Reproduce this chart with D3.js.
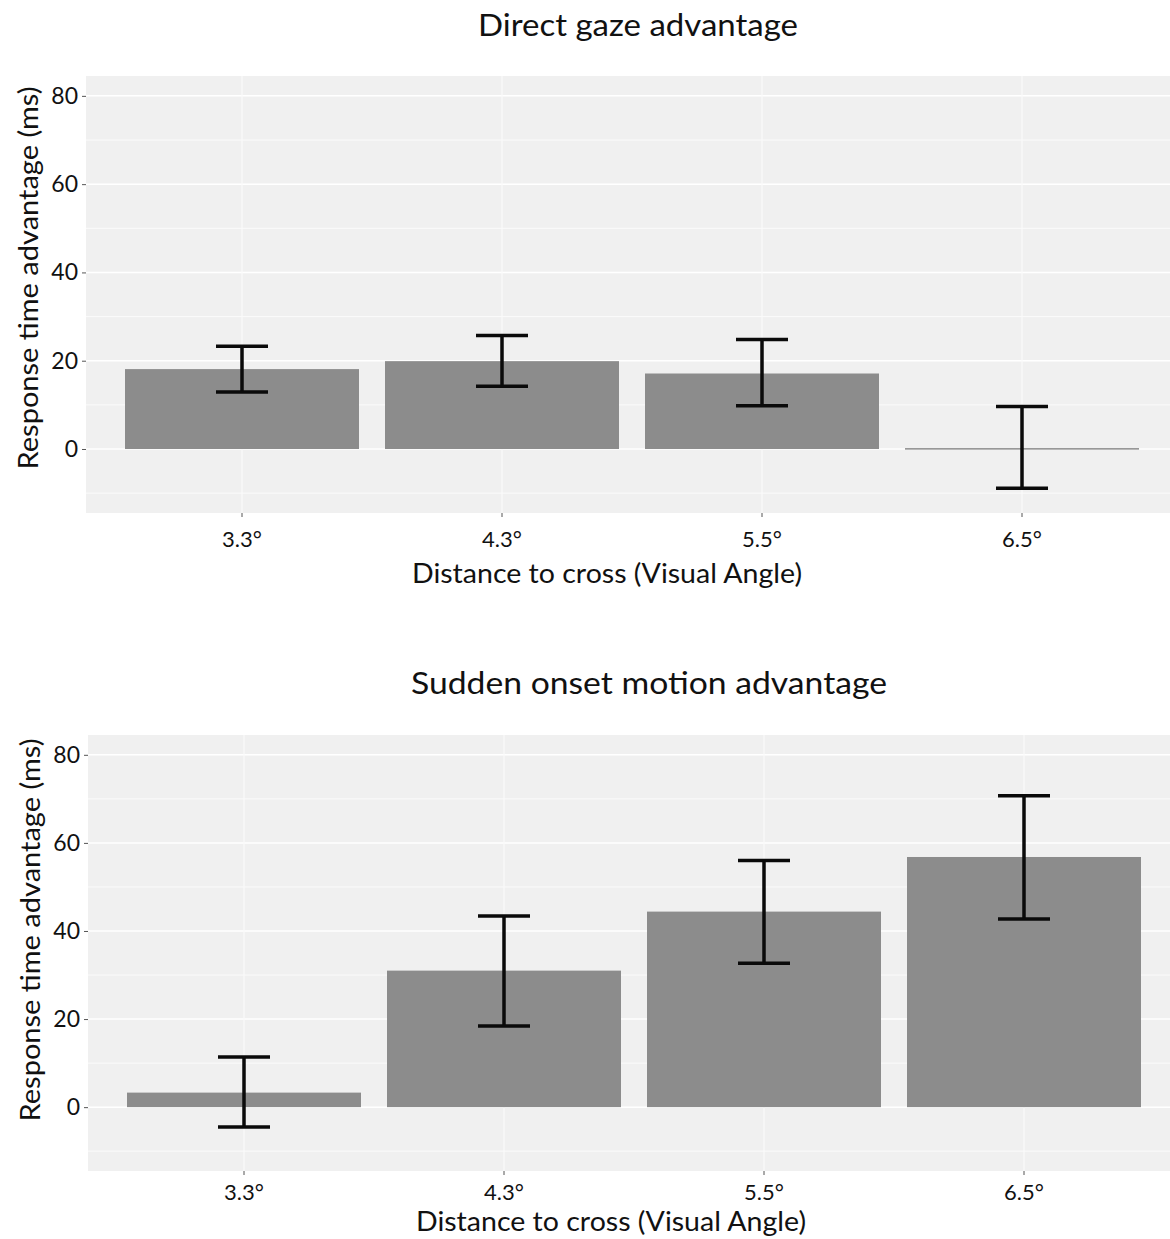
<!DOCTYPE html>
<html>
<head>
<meta charset="utf-8">
<script src="https://cdn.jsdelivr.net/npm/d3@7"></script>
<style>
  body { margin: 0; background: #fff; }
  svg text { font-family: Lato, "Open Sans", sans-serif; fill: #111; }
</style>
</head>
<body>
<svg id="chart" width="1170" height="1239"></svg>
<script>
// categories and values
const categories = ['3.3°', '4.3°', '5.5°', '6.5°'];

const gazeMeans = [18.1, 19.9, 17.1, 0.2];
const gazeLow = [12.9, 14.2, 9.8, -8.9];
const gazeHigh = [23.3, 25.7, 24.8, 9.6];

const motionMeans = [3.3, 31.0, 44.4, 56.8];
const motionLow = [-4.5, 18.4, 32.7, 42.7];
const motionHigh = [11.4, 43.4, 56.0, 70.7];

const yTicks = [0, 20, 40, 60, 80];
const yMinor = [-10, 10, 30, 50, 70];

const svg = d3.select('#chart');

function drawPanel(opts) {
    const g = svg.append('g');
    const left = opts.left, top = opts.top, bottom = opts.bottom;
    const step = 260;
    const right = left + step * 4.2;

    // discrete x scale like ggplot (0.6 units of padding each side, bars 0.9 wide)
    const x = d3.scaleBand()
        .domain(categories)
        .range([left, right])
        .paddingInner(0.1)
        .paddingOuter(0.15);
    const xc = d => x(d) + x.bandwidth() / 2;

    const y = d3.scaleLinear().domain([-14.5, 84.5]).range([bottom, top]);

    // panel background
    g.append('rect')
        .attr('x', left).attr('y', top)
        .attr('width', right - left).attr('height', bottom - top)
        .attr('fill', '#f0f0f0');

    // grid
    g.selectAll('.minor').data(yMinor).enter().append('line')
        .attr('x1', left).attr('x2', right)
        .attr('y1', d => y(d)).attr('y2', d => y(d))
        .attr('stroke', '#fbfbfb').attr('stroke-width', 1);
    g.selectAll('.major').data(yTicks).enter().append('line')
        .attr('x1', left).attr('x2', right)
        .attr('y1', d => y(d)).attr('y2', d => y(d))
        .attr('stroke', '#fff').attr('stroke-width', 1.5);
    g.selectAll('.vgrid').data(categories).enter().append('line')
        .attr('x1', xc).attr('x2', xc)
        .attr('y1', top).attr('y2', bottom)
        .attr('stroke', '#fafafa').attr('stroke-width', 1.2);

    // bars
    const rows = categories.map((c, i) => ({
        cat: c, mean: opts.means[i], lo: opts.low[i], hi: opts.high[i]
    }));
    g.selectAll('.bar').data(rows).enter().append('rect')
        .attr('x', d => x(d.cat))
        .attr('width', x.bandwidth())
        .attr('y', d => y(Math.max(0, d.mean)))
        .attr('height', d => Math.max(1.5, Math.abs(y(d.mean) - y(0))))
        .attr('fill', '#8c8c8c');

    // error bars
    const capHalf = step * 0.1;
    const eb = g.selectAll('.eb').data(rows).enter().append('g')
        .attr('stroke', '#0a0a0a').attr('stroke-width', 3.5);
    eb.append('line')
        .attr('x1', d => xc(d.cat)).attr('x2', d => xc(d.cat))
        .attr('y1', d => y(d.lo)).attr('y2', d => y(d.hi));
    eb.append('line')
        .attr('x1', d => xc(d.cat) - capHalf).attr('x2', d => xc(d.cat) + capHalf)
        .attr('y1', d => y(d.hi)).attr('y2', d => y(d.hi));
    eb.append('line')
        .attr('x1', d => xc(d.cat) - capHalf).attr('x2', d => xc(d.cat) + capHalf)
        .attr('y1', d => y(d.lo)).attr('y2', d => y(d.lo));

    // y axis
    const yAxis = g.append('g')
        .attr('transform', `translate(${left},0)`)
        .call(d3.axisLeft(y).tickValues(yTicks).tickSize(4).tickPadding(4));
    yAxis.select('.domain').remove();
    yAxis.selectAll('.tick line').attr('stroke', '#555');
    yAxis.selectAll('.tick text')
        .style('font-size', '23px').attr('fill', '#111')
        .attr('font-family', 'Lato, sans-serif');

    // x axis
    const xAxis = g.append('g')
        .attr('transform', `translate(0,${bottom})`)
        .call(d3.axisBottom(x).tickSize(4).tickPadding(opts.tickPad));
    xAxis.select('.domain').remove();
    xAxis.selectAll('.tick line').attr('stroke', '#555');
    xAxis.selectAll('.tick text')
        .style('font-size', '22px').attr('fill', '#111')
        .attr('font-family', 'Lato, sans-serif');

    // titles
    g.append('text')
        .attr('x', opts.titleX).attr('y', opts.titleY)
        .attr('text-anchor', 'middle')
        .attr('textLength', opts.titleLen).attr('lengthAdjust', 'spacingAndGlyphs')
        .style('font-size', '30px')
        .text(opts.title);

    g.append('text')
        .attr('x', opts.xTitleX).attr('y', opts.xTitleY)
        .attr('text-anchor', 'middle')
        .attr('textLength', 390).attr('lengthAdjust', 'spacingAndGlyphs')
        .style('font-size', '26px')
        .text('Distance to cross (Visual Angle)');

    g.append('text')
        .attr('transform', `translate(${opts.yTitleX},${opts.yTitleY}) rotate(-90)`)
        .attr('text-anchor', 'middle')
        .attr('textLength', 383).attr('lengthAdjust', 'spacingAndGlyphs')
        .style('font-size', '27px')
        .text('Response time advantage (ms)');
}

drawPanel({
    left: 86, top: 76, bottom: 513, tickPad: 14,
    means: gazeMeans, low: gazeLow, high: gazeHigh,
    title: 'Direct gaze advantage', titleX: 638, titleY: 36, titleLen: 320,
    xTitleX: 607, xTitleY: 583,
    yTitleX: 38, yTitleY: 278
});

drawPanel({
    left: 88, top: 735, bottom: 1171, tickPad: 9,
    means: motionMeans, low: motionLow, high: motionHigh,
    title: 'Sudden onset motion advantage', titleX: 649, titleY: 694, titleLen: 476,
    xTitleX: 611, xTitleY: 1231,
    yTitleX: 40, yTitleY: 930
});
</script>
</body>
</html>
